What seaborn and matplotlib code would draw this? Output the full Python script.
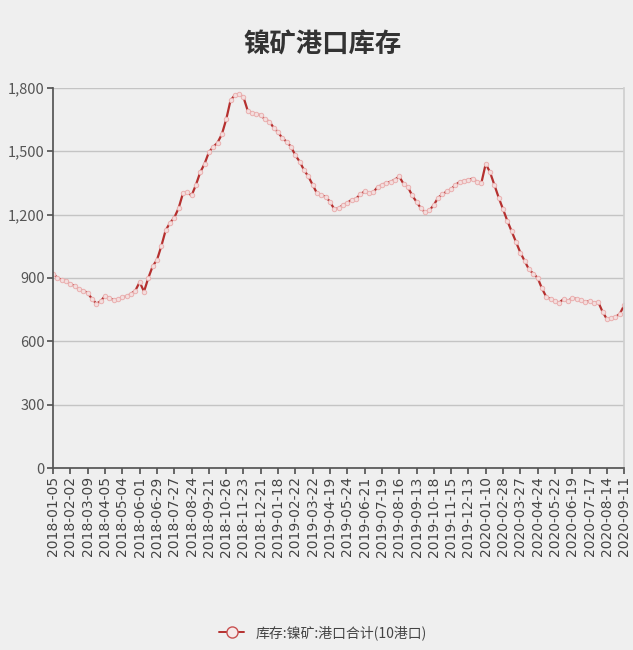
import numpy as np
import pandas as pd
import matplotlib
matplotlib.use("Agg")
import matplotlib.pyplot as plt
import seaborn as sns
from matplotlib.ticker import FuncFormatter

# chart data (weekly)
title = "镍矿港口库存"
series_name = "库存:镍矿:港口合计(10港口)"

tick_labels = [
    "2018-01-05", "2018-02-02", "2018-03-09", "2018-04-05", "2018-05-04",
    "2018-06-01", "2018-06-29", "2018-07-27", "2018-08-24", "2018-09-21",
    "2018-10-26", "2018-11-23", "2018-12-21", "2019-01-18", "2019-02-22",
    "2019-03-22", "2019-04-19", "2019-05-24", "2019-06-21", "2019-07-19",
    "2019-08-16", "2019-09-13", "2019-10-18", "2019-11-15", "2019-12-13",
    "2020-01-10", "2020-02-28", "2020-03-27", "2020-04-24", "2020-05-22",
    "2020-06-19", "2020-07-17", "2020-08-14", "2020-09-11",
]

inventory = [
    920, 900, 890, 885, 870, 862, 845, 840, 828, 800, 778,
    790, 815, 805, 795, 800, 808, 812, 825, 840, 880,
    835, 900, 955, 985, 1050, 1125, 1160, 1185, 1230, 1300,
    1305, 1290, 1340, 1400, 1440, 1495, 1520, 1540, 1580, 1650,
    1740, 1765, 1770, 1755, 1690, 1680, 1675, 1670, 1650, 1640,
    1610, 1590, 1560, 1545, 1520, 1480, 1450, 1410, 1380, 1340,
    1300, 1290, 1285, 1260, 1225, 1230, 1245, 1255, 1270, 1275,
    1295, 1310, 1300, 1305, 1330, 1340, 1350, 1355, 1365, 1380,
    1345, 1330, 1290, 1260, 1230, 1210, 1220, 1245, 1280, 1295,
    1310, 1320, 1340, 1355, 1360, 1365, 1370, 1355, 1350, 1440,
    1400, 1340, 1280, 1225, 1170, 1120, 1070, 1020, 980, 940,
    920, 900, 850, 810, 800, 790, 783, 800, 790, 805,
    800, 795, 786, 790, 782, 786, 740, 705, 710, 715, 730, 770,
]

y_ticks = [0, 300, 600, 900, 1200, 1500, 1800]
label_step = 4

df = pd.DataFrame({"idx": np.arange(len(inventory)), "value": inventory})

sns.set_theme(style="white")
plt.rcParams["font.family"] = ["Noto Sans CJK SC", "DejaVu Sans"]

bg = "#efefef"
fig = plt.figure(figsize=(6.33, 6.5), dpi=100, facecolor=bg)
ax = fig.add_axes([0.084, 0.28, 0.902, 0.585], facecolor=bg)

line_color = "#b5302f"
sns.lineplot(data=df, x="idx", y="value", ax=ax, color=line_color, linewidth=1.6,
             marker="o", markersize=3.2, markerfacecolor="#f3dede",
             markeredgecolor="#eab0b0", markeredgewidth=0.7, label=series_name,
             legend=False)

ax.set_xlim(0, len(inventory) - 1)
ax.set_ylim(0, 1800)
ax.set_yticks(y_ticks)
ax.yaxis.set_major_formatter(FuncFormatter(lambda v, p: f"{int(v):,}"))
ax.set_xticks(np.arange(0, len(inventory), label_step))
ax.set_xticklabels(tick_labels, rotation=90, fontsize=10, color="#444444",
                   family=["DejaVu Sans"])
for t in ax.get_yticklabels():
    t.set_fontsize(10.5)
    t.set_color("#555555")

ax.grid(axis="y", color="#c4c4c4", linewidth=1)
ax.grid(axis="x", visible=False)
ax.spines["top"].set_visible(False)
ax.spines["right"].set_color("#cfcfcf")
ax.spines["left"].set_color("#555555")
ax.spines["bottom"].set_color("#555555")
ax.tick_params(axis="both", which="both", length=4, color="#555555",
               bottom=True, left=True, pad=2)
ax.set_xlabel("")
ax.set_ylabel("")

fig.text(0.51, 0.93, title, ha="center", va="center", fontsize=19,
         fontweight="bold", color="#333333")

handles = [plt.Line2D([], [], color=line_color, linewidth=1.4, marker="o",
                      markersize=8, markerfacecolor="#f6eaea",
                      markeredgecolor="#c85050", markeredgewidth=1)]
fig.legend(handles, [series_name], loc="center", bbox_to_anchor=(0.51, 0.027),
           frameon=False, fontsize=10, handlelength=1.8, labelcolor="#444444")

fig.savefig("out.png", dpi=100, facecolor=bg)
